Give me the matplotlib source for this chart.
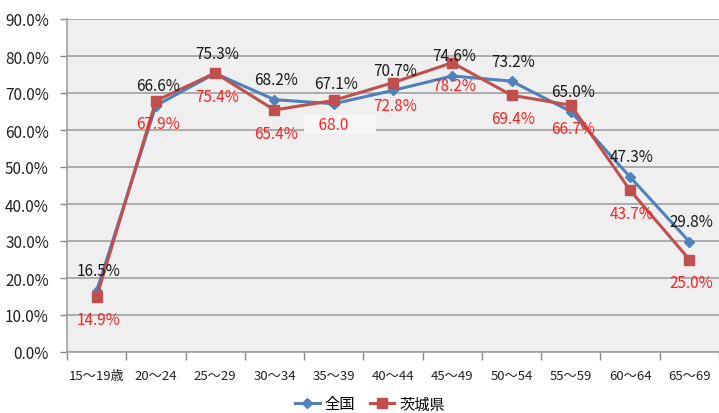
import matplotlib
matplotlib.use("Agg")
import matplotlib.pyplot as plt

plt.rcParams['font.family'] = ['Noto Sans CJK JP', 'DejaVu Sans']

categories = ["15〜19歳", "20〜24", "25〜29", "30〜34", "35〜39", "40〜44",
              "45〜49", "50〜54", "55〜59", "60〜64", "65〜69"]
zenkoku = [16.5, 66.6, 75.3, 68.2, 67.1, 70.7, 74.6, 73.2, 65.0, 47.3, 29.8]
ibaraki = [14.9, 67.9, 75.4, 65.4, 68.0, 72.8, 78.2, 69.4, 66.7, 43.7, 25.0]
yticks = [0, 10, 20, 30, 40, 50, 60, 70, 80, 90]

blue = '#4F81BD'
red = '#C0504D'

fig = plt.figure(figsize=(7.19, 4.14), dpi=100)
ax = fig.add_axes([67 / 719, 1 - 353 / 414, 652 / 719, 333 / 414])
ax.set_facecolor('#EFEFEF')

x = list(range(len(categories)))
ax.plot(x, zenkoku, color=blue, lw=2.2, marker='D', ms=5, label='全国', zorder=3)
ax.plot(x, ibaraki, color=red, lw=2.2, marker='s', ms=7, label='茨城県', zorder=4)

for i, v in enumerate(zenkoku):
    ax.annotate(f"{v:.1f}%", (i, v), xytext=(2, 20), textcoords='offset pixels',
                ha='center', va='center', fontsize=11, color='#1a1a1a', zorder=5)
for i, v in enumerate(ibaraki):
    if i == 4:
        # label partly hidden behind a pale box in the original
        ax.annotate("    " + f"{v:.1f}" + "        ", (i, v), xytext=(-29, -24),
                    textcoords='offset pixels', ha='left', va='center', fontsize=11,
                    color='#FF2020', zorder=5,
                    bbox=dict(boxstyle='square,pad=0.05', fc='#F6F6F6', ec='none'))
    else:
        ax.annotate(f"{v:.1f}%", (i, v), xytext=(2, -23), textcoords='offset pixels',
                    ha='center', va='center', fontsize=11, color='#FF2020', zorder=5)

ax.set_xlim(-0.5, len(categories) - 0.5)
ax.set_ylim(0, 90)
ax.set_yticks(yticks)
ax.set_yticklabels([f"{t:.1f}%" for t in yticks], fontsize=11, color='#222222')
ax.set_xticks(x)
ax.set_xticklabels(categories, fontsize=9.5, color='#222222')
ax.tick_params(axis='x', length=0, pad=12)
ax.set_xticks([i + 0.5 for i in range(-1, len(categories))], minor=True)
ax.tick_params(axis='x', which='minor', length=6, color='#888888', width=1)
ax.tick_params(axis='y', length=5, color='#888888', width=1, pad=8)

ax.grid(axis='y', color='#A6A6A6', lw=1.3)
ax.set_axisbelow(True)
for s in ['top', 'right']:
    ax.spines[s].set_visible(False)
ax.spines['left'].set_color('#A0A0A0')
ax.spines['bottom'].set_color('#A0A0A0')
ax.spines['left'].set_linewidth(1.2)
ax.spines['bottom'].set_linewidth(1.2)

fig.legend(loc='center', bbox_to_anchor=(370 / 719, 1 - 405 / 414), ncol=2,
           frameon=False, fontsize=11, handlelength=1.6, columnspacing=1.0,
           handletextpad=0.3)

fig.savefig('out.png', dpi=100)
